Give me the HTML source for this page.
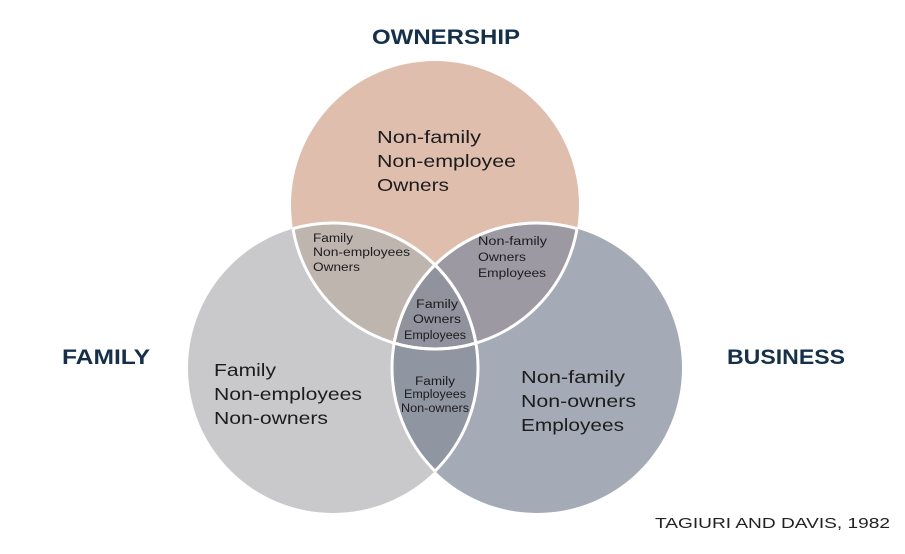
<!DOCTYPE html>
<html><head><style>
html,body{margin:0;padding:0;background:#fff;}
svg{display:block;}
text{font-family:"Liberation Sans",sans-serif;}
</style></head><body>
<svg width="905" height="554" viewBox="0 0 905 554">
<defs>
<clipPath id="cT"><circle cx="435" cy="205" r="144"/></clipPath>
<clipPath id="cL"><circle cx="333" cy="368" r="145"/></clipPath>
<clipPath id="cR"><circle cx="537" cy="368" r="145"/></clipPath>
</defs>
<rect width="905" height="554" fill="#fff"/>
<circle cx="435" cy="205" r="144" fill="#dfbeae"/>
<circle cx="333" cy="368" r="145" fill="#c9c9cb"/>
<circle cx="537" cy="368" r="145" fill="#a4aab6"/>
<circle cx="333" cy="368" r="145" fill="#bfb5af" clip-path="url(#cT)"/>
<circle cx="537" cy="368" r="145" fill="#9c99a2" clip-path="url(#cT)"/>
<circle cx="537" cy="368" r="145" fill="#8f95a1" clip-path="url(#cL)"/>
<g clip-path="url(#cT)"><circle cx="537" cy="368" r="145" fill="#90929d" clip-path="url(#cL)"/></g>
<g fill="none" stroke="#fff" stroke-width="3">
<circle cx="435" cy="205" r="144" clip-path="url(#cL)"/>
<circle cx="435" cy="205" r="144" clip-path="url(#cR)"/>
<circle cx="333" cy="368" r="145" clip-path="url(#cT)"/>
<circle cx="333" cy="368" r="145" clip-path="url(#cR)"/>
<circle cx="537" cy="368" r="145" clip-path="url(#cT)"/>
<circle cx="537" cy="368" r="145" clip-path="url(#cL)"/>
</g>
<g font-weight="bold" font-size="21" fill="#15304b" lengthAdjust="spacingAndGlyphs">
<text x="372" y="44" textLength="148" lengthAdjust="spacingAndGlyphs">OWNERSHIP</text>
<text x="62" y="364" textLength="88" lengthAdjust="spacingAndGlyphs">FAMILY</text>
<text x="727" y="364" textLength="118" lengthAdjust="spacingAndGlyphs">BUSINESS</text>
</g>
<text x="655" y="528" font-size="15" fill="#222" textLength="235" lengthAdjust="spacingAndGlyphs">TAGIURI AND DAVIS, 1982</text>
<g font-size="17.5" fill="#1c1c1c">
<text x="377" y="143" textLength="104" lengthAdjust="spacingAndGlyphs">Non-family</text>
<text x="377" y="167" textLength="139" lengthAdjust="spacingAndGlyphs">Non-employee</text>
<text x="377" y="191" textLength="72" lengthAdjust="spacingAndGlyphs">Owners</text>
<text x="214" y="376" textLength="62" lengthAdjust="spacingAndGlyphs">Family</text>
<text x="214" y="400" textLength="148" lengthAdjust="spacingAndGlyphs">Non-employees</text>
<text x="214" y="424" textLength="114" lengthAdjust="spacingAndGlyphs">Non-owners</text>
<text x="521" y="383" textLength="104" lengthAdjust="spacingAndGlyphs">Non-family</text>
<text x="521" y="407" textLength="115" lengthAdjust="spacingAndGlyphs">Non-owners</text>
<text x="521" y="431" textLength="103" lengthAdjust="spacingAndGlyphs">Employees</text>
</g>
<g font-size="11.5" fill="#1c1c1c">
<text x="313" y="242" textLength="40" lengthAdjust="spacingAndGlyphs">Family</text>
<text x="313" y="256" textLength="97" lengthAdjust="spacingAndGlyphs">Non-employees</text>
<text x="313" y="271" textLength="47" lengthAdjust="spacingAndGlyphs">Owners</text>
<text x="478" y="245" textLength="69" lengthAdjust="spacingAndGlyphs">Non-family</text>
<text x="478" y="261" textLength="48" lengthAdjust="spacingAndGlyphs">Owners</text>
<text x="478" y="277" textLength="68" lengthAdjust="spacingAndGlyphs">Employees</text>
<text x="416" y="308" textLength="42" lengthAdjust="spacingAndGlyphs">Family</text>
<text x="413" y="323" textLength="48" lengthAdjust="spacingAndGlyphs">Owners</text>
<text x="404" y="339" textLength="62" lengthAdjust="spacingAndGlyphs">Employees</text>
<text x="415" y="385" textLength="40" lengthAdjust="spacingAndGlyphs">Family</text>
<text x="404" y="398" textLength="62" lengthAdjust="spacingAndGlyphs">Employees</text>
<text x="401" y="412" textLength="68" lengthAdjust="spacingAndGlyphs">Non-owners</text>
</g>
</svg>
</body></html>
